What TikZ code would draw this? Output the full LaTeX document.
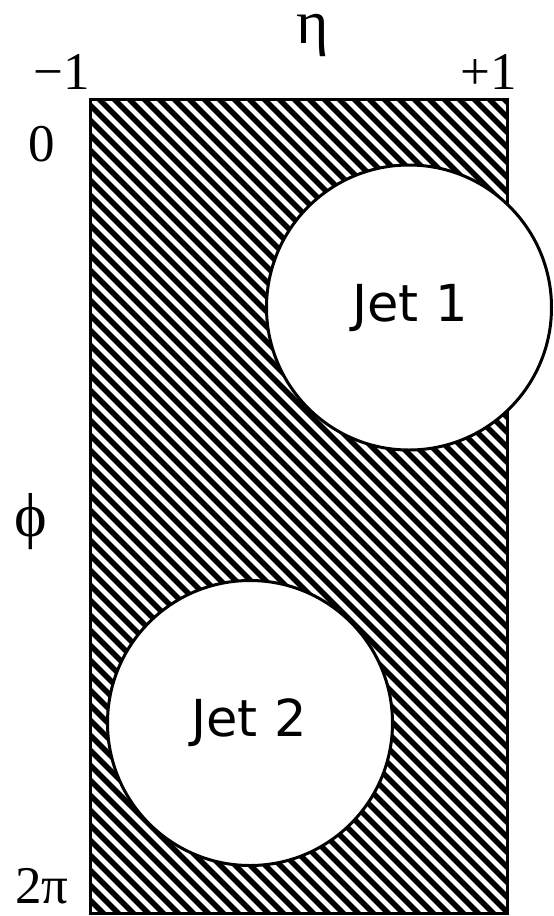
\documentclass[tikz,border=0pt]{standalone}
\usepackage{fontspec}
\setmainfont{Liberation Serif}
\newfontfamily\jetfont{DejaVu Sans}
\begin{document}
\begin{tikzpicture}[x=1pt,y=-1pt,
  axislabel/.style={inner sep=0pt, font=\fontsize{53}{60}\selectfont},
  greeklabel/.style={inner sep=0pt, font=\fontsize{62}{70}\selectfont},
  jetlabel/.style={inner sep=0pt, font=\jetfont\fontsize{51}{60}\selectfont},
  jetcircle/.style={circle, draw=black, fill=white, line width=3pt, minimum size=285pt, inner sep=0pt},
  hatch/.style={line width=5.4pt, black}]
\useasboundingbox (0,0) rectangle (554,916);
% hatched region
\coordinate (rtl) at (90,99);
\coordinate (rbr) at (507,913);
\begin{scope}
  \clip (rtl) rectangle (rbr);
  \foreach \c in {-930,-915,...,520} {
    \draw[hatch] (\c,0) -- (\c+1000,1000);
  }
\end{scope}
\draw[line width=3pt] (rtl) rectangle (rbr);
% jets
\node[jetcircle] (jet1) at (409,307.5) {};
\node[jetcircle] (jet2) at (250,723) {};
\node[jetlabel] (j1) at (410,308) {Jet 1};
\node[jetlabel] (j2) at (249,723) {Jet 2};
% axis labels
\node[greeklabel] (eta) at (313,35) {η};
\node[axislabel] (m1) at (62,72) {−1};
\node[axislabel] (p1) at (489,72) {+1};
\node[axislabel] (z) at (42,144) {0};
\node[greeklabel] (phi) at (31,522) {ϕ};
\node[axislabel] (tp) at (42,886) {2π};
\end{tikzpicture}
\end{document}
